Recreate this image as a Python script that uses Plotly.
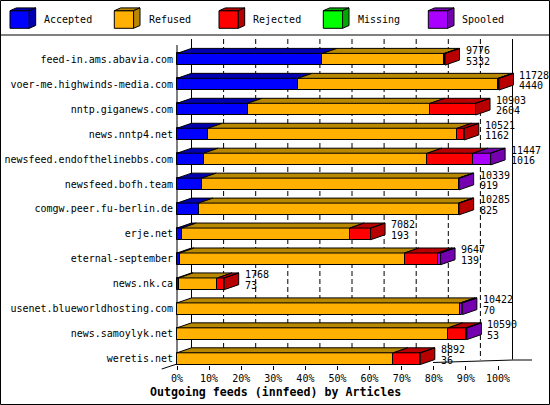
import plotly.graph_objects as go

# ---------------- data ----------------
feeds = ["feed-in.ams.abavia.com", "voer-me.highwinds-media.com", "nntp.giganews.com",
         "news.nntp4.net", "newsfeed.endofthelinebbs.com", "newsfeed.bofh.team",
         "comgw.peer.fu-berlin.de", "erje.net", "eternal-september", "news.nk.ca",
         "usenet.blueworldhosting.com", "news.samoylyk.net", "weretis.net"]
accepted = [45.3, 37.6, 22.0, 9.6, 8.3, 7.7, 6.7, 1.5, 0.8, 0.5, 0.0, 0.0, 0.0]
refused = [38.0, 62.4, 56.9, 77.7, 69.7, 80.0, 81.0, 52.3, 70.1, 12.1, 88.3, 84.5, 67.4]
rejected = [0.2, 0.3, 14.1, 2.2, 14.3, 0.0, 0.2, 6.5, 10.3, 2.1, 0.0, 5.6, 8.4]
missing = [0.0, 0.0, 0.0, 0.0, 0.0, 0.0, 0.0, 0.0, 0.0, 0.0, 0.0, 0.0, 0.0]
spooled = [0.0, 0.0, 0.0, 0.0, 5.4, 0.2, 0.0, 0.0, 0.9, 0.0, 0.6, 0.2, 0.0]
offered = [9776, 11728, 10903, 10521, 11447, 10339, 10285, 7082, 9647, 1768, 10422, 10590, 8892]
acc_count = [5332, 4440, 2604, 1162, 1016, 919, 825, 193, 139, 73, 70, 53, 36]
tick_pct = [0, 10, 20, 30, 40, 50, 60, 70, 80, 90, 100]

series_names = ["Accepted", "Refused", "Rejected", "Missing", "Spooled"]
series_vals = [accepted, refused, rejected, missing, spooled]
front_cols = ["#0000ff", "#ffb000", "#ff0000", "#00ff00", "#aa00ff"]
dark_cols = ["#0000b0", "#b88800", "#b80000", "#00a800", "#7400b0"]

# ---------------- geometry ----------------
FONT = "DejaVu Sans Mono"
W, H = 550, 405
ML, MR, MT, MB = 175, 25, 39, 40
PW, PH = W - ML - MR, H - MT - MB
XS = 3.21          # px per percent
YS = 24.95         # px per row
BAR_H = 0.47
DX = 14.5 / XS
DY = 5.0 / YS
x_lo = -2 / XS
x_hi = x_lo + PW / XS
y_hi = 0.812
y_lo = y_hi - PH / YS

n = len(feeds)
ys = [-i for i in range(n)]


def px(xp):
    return (xp - ML) / PW


def py(yp):
    return (H - MB - yp) / PH


fig = go.Figure()

# front faces (bars)
base = [0.0] * n
bases = []
for name, vals, fc in zip(series_names, series_vals, front_cols):
    bases.append(base[:])
    fig.add_trace(go.Bar(y=ys, x=vals, base=base[:], orientation="h", width=BAR_H,
                         marker=dict(color=fc, line=dict(color="black", width=1)),
                         name=name, showlegend=False))
    base = [b + v for b, v in zip(base, vals)]
totals = base

# last non-zero segment per row
last_idx = []
for i in range(n):
    li = 0
    for s, vals in enumerate(series_vals):
        if vals[i] > 0:
            li = s
    last_idx.append(li)

# top faces and side faces
for s, (vals, dc) in enumerate(zip(series_vals, dark_cols)):
    xx, yy = [], []
    for i in range(n):
        if vals[i] <= 0:
            continue
        x0 = bases[s][i]
        x1 = x0 + vals[i]
        yt = ys[i] + BAR_H / 2
        xx += [x0, x1, x1 + DX, x0 + DX, x0, None]
        yy += [yt, yt, yt + DY, yt + DY, yt, None]
    for i in range(n):
        if last_idx[i] != s:
            continue
        xe = totals[i]
        yt = ys[i] + BAR_H / 2
        yb = ys[i] - BAR_H / 2
        xx += [xe, xe + DX, xe + DX, xe, xe, None]
        yy += [yb, yb + DY, yt + DY, yt, yb, None]
    if xx:
        fig.add_trace(go.Scatter(x=xx, y=yy, mode="lines", fill="toself", fillcolor=dc,
                                 line=dict(color="black", width=1), hoverinfo="skip",
                                 showlegend=False))

shapes = []
# back grid (dashed) and back plane edges
y_floor = y_lo + 0.02 + DY
for p in tick_pct[1:-1]:
    shapes.append(dict(type="line", xref="x", yref="y", x0=p + DX, x1=p + DX,
                       y0=y_hi, y1=y_floor, layer="below",
                       line=dict(color="black", width=1, dash="5px,3px")))
for p in (0, 100):
    shapes.append(dict(type="line", xref="x", yref="y", x0=p + DX, x1=p + DX,
                       y0=y_hi, y1=y_floor, layer="below",
                       line=dict(color="black", width=1)))
# front left axis line
shapes.append(dict(type="line", xref="x", yref="y", x0=0, x1=0,
                   y0=y_hi - 6 / YS, y1=y_lo, layer="below",
                   line=dict(color="black", width=1)))

# floor edges
shapes.append(dict(type="line", xref="paper", yref="paper", x0=px(161.7), x1=px(177),
                   y0=py(369), y1=py(364), line=dict(color="black", width=1)))
shapes.append(dict(type="path", xref="paper", yref="paper",
                   path="M {} {} L {} {} L {} {}".format(px(433), py(362.5), px(513), py(360),
                                                         px(532), py(360)),
                   line=dict(color="black", width=1)))

# outer frame and legend separator
shapes.append(dict(type="rect", xref="paper", yref="paper", x0=px(0.5), x1=px(549.5),
                   y0=py(0.5), y1=py(404.5), line=dict(color="black", width=1)))
shapes.append(dict(type="line", xref="paper", yref="paper", x0=px(0.5), x1=px(549.5),
                   y0=py(35), y1=py(35), line=dict(color="black", width=1)))

annotations = []
# legend with 3D boxes
leg_box_x = [10, 114.3, 219, 323.3, 428.3]
leg_text_x = [42, 147, 251, 356, 460]
for name, fc, dc, bx, tx in zip(series_names, front_cols, dark_cols, leg_box_x, leg_text_x):
    bx1 = bx + 19.3
    by0, by1 = 10.7, 28.3
    ldx, ldy = 6.4, 2.8
    shapes.append(dict(type="rect", xref="paper", yref="paper", x0=px(bx), x1=px(bx1),
                       y0=py(by0), y1=py(by1), fillcolor=fc,
                       line=dict(color="black", width=1)))
    top = "M {} {} L {} {} L {} {} L {} {} Z".format(
        px(bx), py(by0), px(bx1), py(by0), px(bx1 + ldx), py(by0 - ldy), px(bx + ldx), py(by0 - ldy))
    side = "M {} {} L {} {} L {} {} L {} {} Z".format(
        px(bx1), py(by0), px(bx1 + ldx), py(by0 - ldy), px(bx1 + ldx), py(by1 - ldy), px(bx1), py(by1))
    for path in (top, side):
        shapes.append(dict(type="path", xref="paper", yref="paper", path=path,
                           fillcolor=dc, line=dict(color="black", width=1)))
    annotations.append(dict(xref="paper", yref="paper", x=px(tx), y=py(20),
                            xanchor="left", yanchor="middle", showarrow=False, text=name,
                            font=dict(family=FONT, size=10, color="black")))

# value labels to the right of each bar
for i in range(n):
    for txt, off in ((str(offered[i]), 0.36), (str(acc_count[i]), -0.07)):
        annotations.append(dict(xref="x", yref="y", x=totals[i] + DX, y=ys[i] + off,
                                xanchor="left", yanchor="middle", xshift=4, showarrow=False,
                                text=txt, font=dict(family=FONT, size=10, color="black")))

# title
annotations.append(dict(xref="paper", yref="paper", x=px(275), y=py(391.5),
                        xanchor="center", yanchor="middle", showarrow=False,
                        text="<b>Outgoing feeds (innfeed) by Articles</b>",
                        font=dict(family=FONT, size=11.6, color="black")))

fig.update_layout(
    width=W, height=H,
    margin=dict(l=ML, r=MR, t=MT, b=MB, pad=0, autoexpand=False),
    paper_bgcolor="white", plot_bgcolor="white",
    barmode="overlay", bargap=0, showlegend=False,
    font=dict(family=FONT, size=10, color="black"),
    xaxis=dict(range=[x_lo, x_hi], tickvals=tick_pct, ticktext=[f"{p}%" for p in tick_pct],
               ticks="outside", ticklen=4, tickcolor="black", tickwidth=1,
               showgrid=False, zeroline=False, showline=False, fixedrange=True,
               automargin=False,
               tickfont=dict(family=FONT, size=10, color="black")),
    yaxis=dict(range=[y_lo, y_hi], tickvals=ys, ticktext=feeds, ticks="",
               showgrid=False, zeroline=False, showline=False, fixedrange=True,
               ticklabelstandoff=1, automargin=False,
               tickfont=dict(family=FONT, size=10, color="black")),
    shapes=shapes, annotations=annotations,
)

fig.write_html("out.html", config={"displayModeBar": False},
               post_script="document.body.style.margin='0';document.body.style.padding='0';")
